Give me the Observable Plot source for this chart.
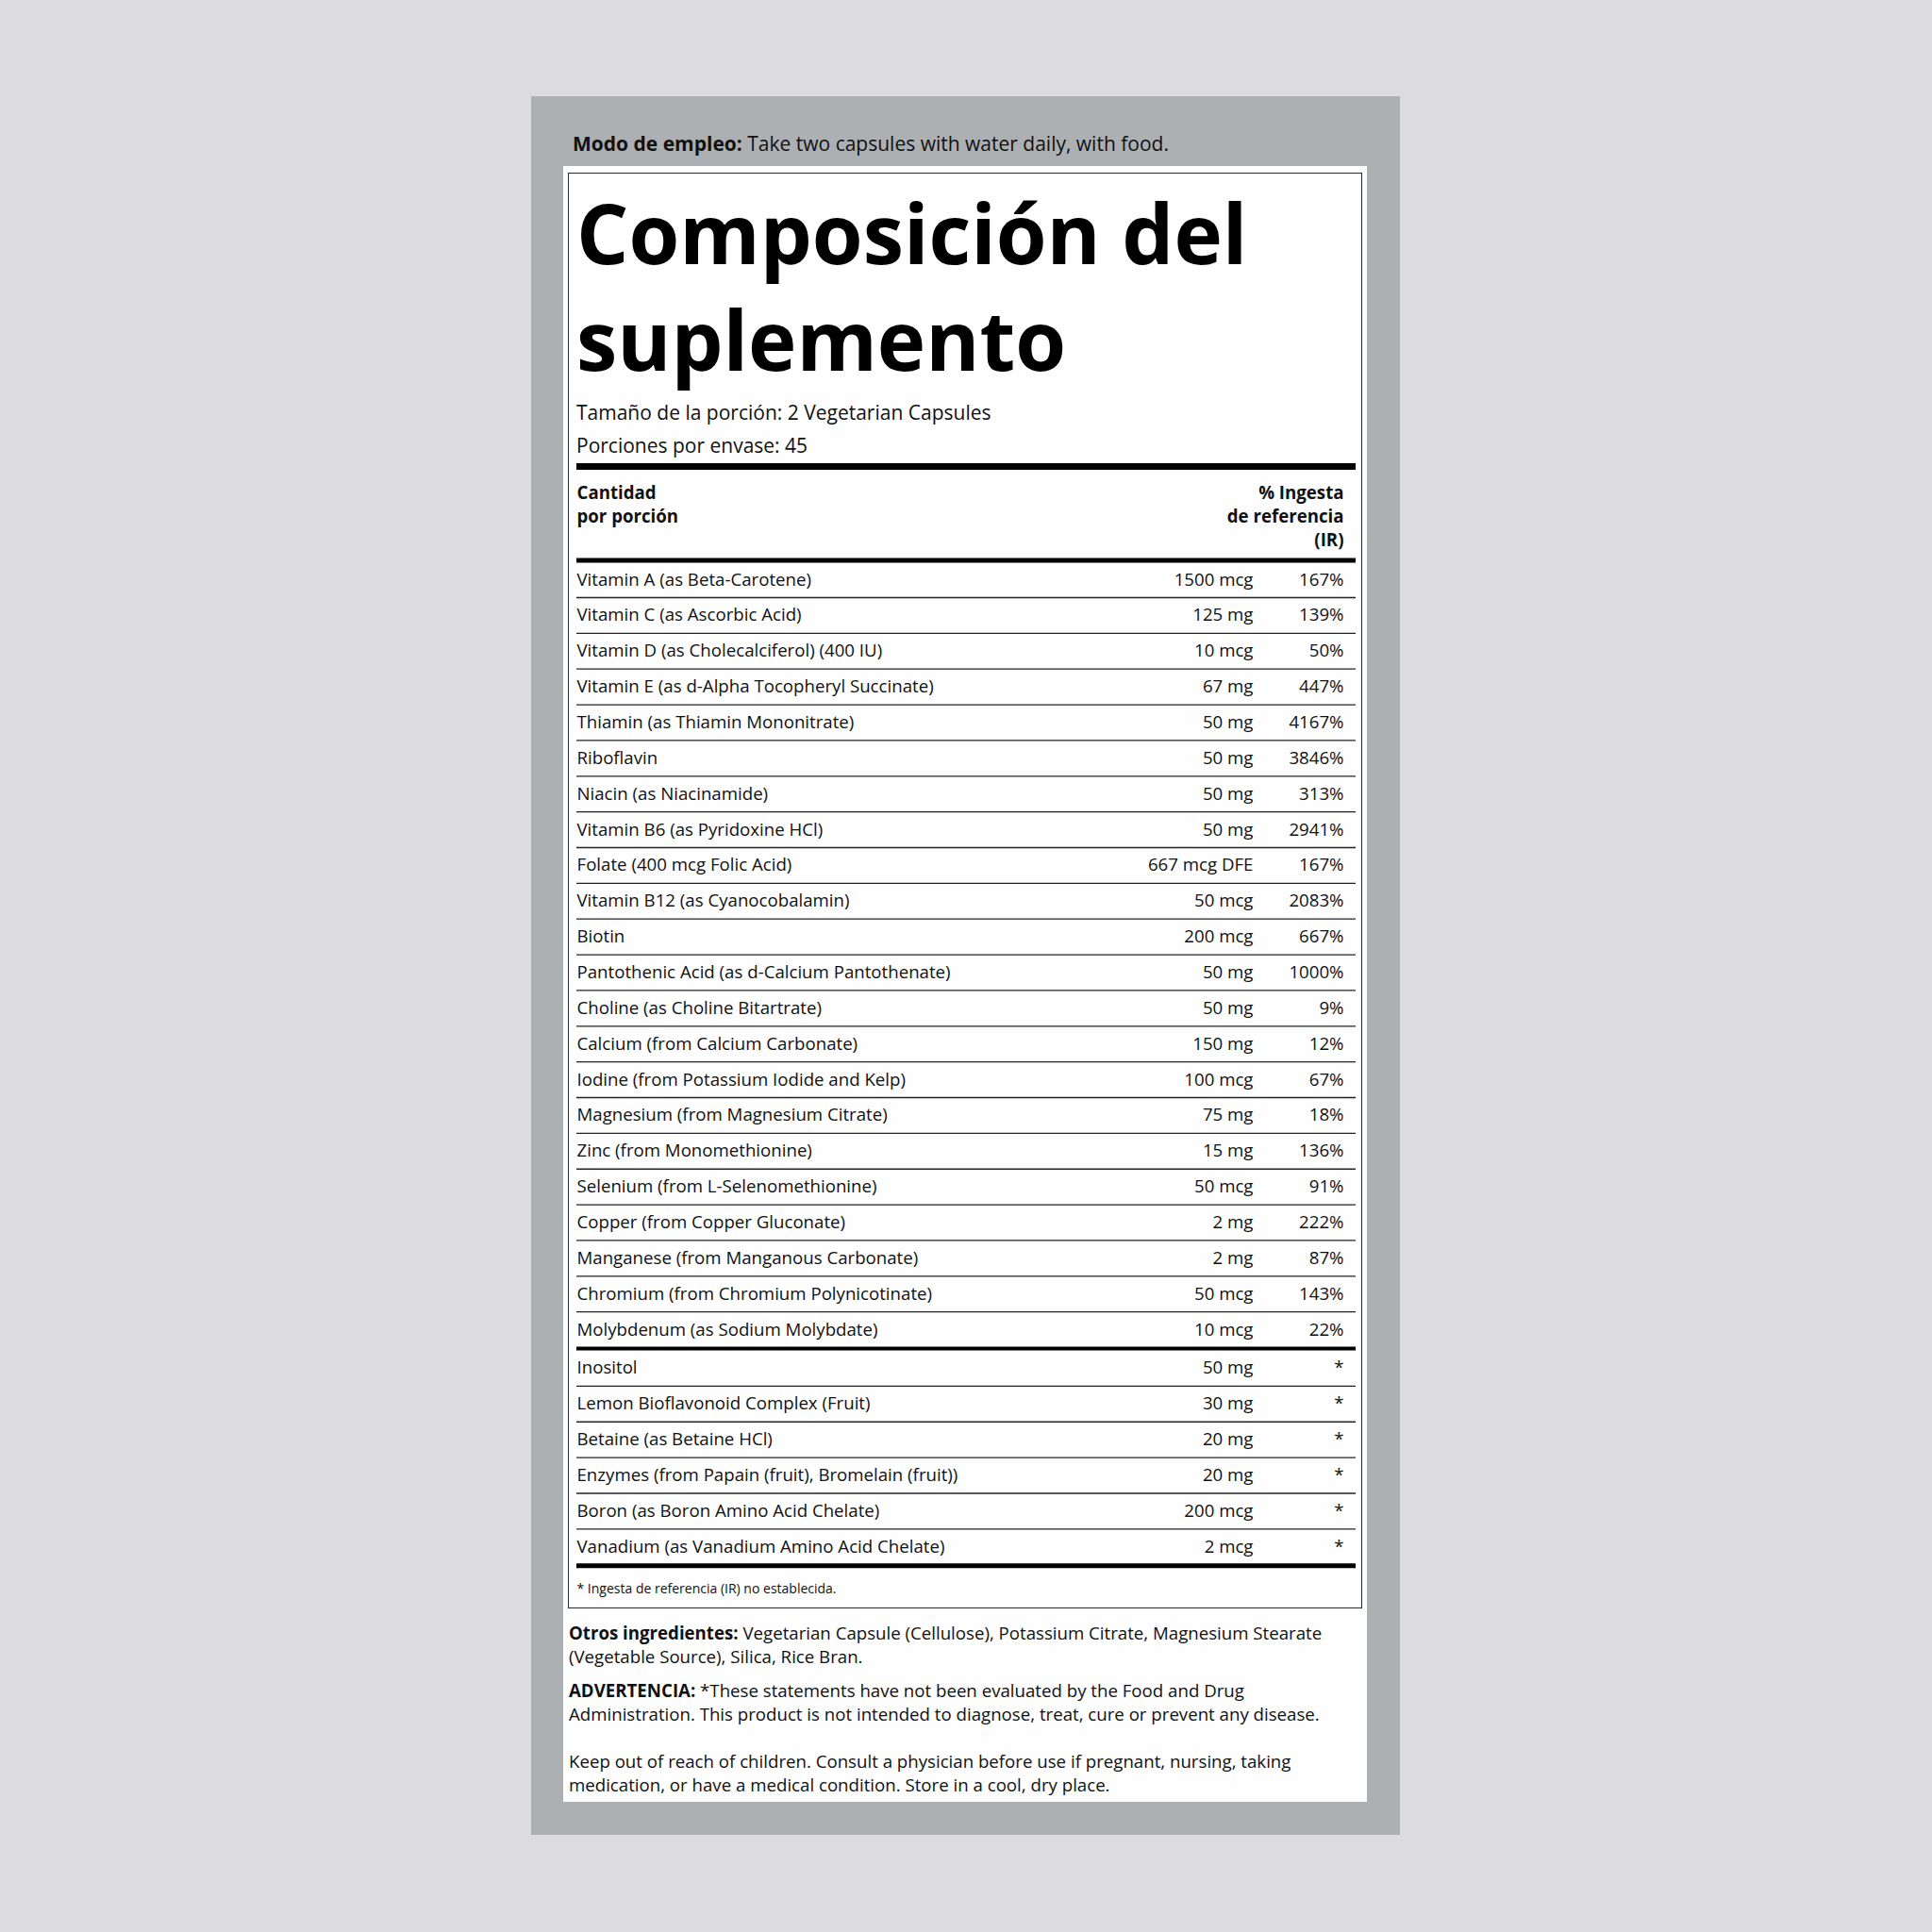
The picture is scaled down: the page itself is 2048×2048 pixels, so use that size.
<!DOCTYPE html>
<html><head><meta charset="utf-8">
<script src="https://cdn.jsdelivr.net/npm/d3@7"></script>
<script src="https://cdn.jsdelivr.net/npm/@observablehq/plot@0.6"></script>
<style>
html,body{margin:0;padding:0;}
body{width:2048px;height:2048px;background:#dcdbde;position:relative;overflow:hidden;font-family:"Open Sans",sans-serif;color:#111;}
.abs{position:absolute;white-space:nowrap;}
#panel{left:563px;top:102px;width:921px;height:1843px;background:#adb0b3;}
#white{left:597px;top:176px;width:852px;height:1734px;background:#fdfefd;}
#box{left:602px;top:183px;width:842px;height:1522px;border:1.5px solid #2b2b2b;box-sizing:border-box;}
#modo{left:607px;top:141.5px;font-size:21px;line-height:21px;}
#title{left:611px;top:190px;font-size:87px;line-height:113px;font-weight:700;color:#000;}
#serving{left:611px;top:419.5px;font-size:21px;line-height:35px;}
.para{left:603px;font-size:18.67px;line-height:25px;}
#otros{top:1717.5px;}
#adv{top:1778.5px;}
#keep{top:1853.5px;}
#table{left:611px;top:491px;width:826px;}
b{font-weight:700;}
</style></head>
<body>
<div id="panel" class="abs"></div>
<div id="white" class="abs"></div>
<div id="box" class="abs"></div>
<div id="modo" class="abs"></div>
<div id="title" class="abs"></div>
<div id="serving" class="abs"></div>
<div id="otros" class="abs para"></div>
<div id="adv" class="abs para"></div>
<div id="keep" class="abs para"></div>
<div id="table" class="abs"></div>
<script>
// ---- content ----
const directions = ["Modo de empleo:", "Take two capsules with water daily, with food."];
const titleLines = ["Composición del", "suplemento"];
const servingLines = ["Tamaño de la porción: 2 Vegetarian Capsules", "Porciones por envase: 45"];
const headerLeft = ["Cantidad", "por porción"];
const headerRight = ["% Ingesta", "de referencia", "(IR)"];
const footnote = "* Ingesta de referencia (IR) no establecida.";
const otherIngredients = ["Otros ingredientes:", "Vegetarian Capsule (Cellulose), Potassium Citrate, Magnesium Stearate", "(Vegetable Source), Silica, Rice Bran."];
const warning = ["ADVERTENCIA:", "*These statements have not been evaluated by the Food and Drug", "Administration. This product is not intended to diagnose, treat, cure or prevent any disease."];
const keepOut = ["Keep out of reach of children. Consult a physician before use if pregnant, nursing, taking", "medication, or have a medical condition. Store in a cool, dry place."];

// ---- data ----
const nutrients = [
  "Vitamin A (as Beta-Carotene)",
  "Vitamin C (as Ascorbic Acid)",
  "Vitamin D (as Cholecalciferol) (400 IU)",
  "Vitamin E (as d-Alpha Tocopheryl Succinate)",
  "Thiamin (as Thiamin Mononitrate)",
  "Riboflavin",
  "Niacin (as Niacinamide)",
  "Vitamin B6 (as Pyridoxine HCl)",
  "Folate (400 mcg Folic Acid)",
  "Vitamin B12 (as Cyanocobalamin)",
  "Biotin",
  "Pantothenic Acid (as d-Calcium Pantothenate)",
  "Choline (as Choline Bitartrate)",
  "Calcium (from Calcium Carbonate)",
  "Iodine (from Potassium Iodide and Kelp)",
  "Magnesium (from Magnesium Citrate)",
  "Zinc (from Monomethionine)",
  "Selenium (from L-Selenomethionine)",
  "Copper (from Copper Gluconate)",
  "Manganese (from Manganous Carbonate)",
  "Chromium (from Chromium Polynicotinate)",
  "Molybdenum (as Sodium Molybdate)"
];
const nutrientAmounts = ["1500 mcg","125 mg","10 mcg","67 mg","50 mg","50 mg","50 mg","50 mg","667 mcg DFE","50 mcg","200 mcg","50 mg","50 mg","150 mg","100 mcg","75 mg","15 mg","50 mcg","2 mg","2 mg","50 mcg","10 mcg"];
const nutrientPct = [167,139,50,447,4167,3846,313,2941,167,2083,667,1000,9,12,67,18,136,91,222,87,143,22];

const others = [
  "Inositol",
  "Lemon Bioflavonoid Complex (Fruit)",
  "Betaine (as Betaine HCl)",
  "Enzymes (from Papain (fruit), Bromelain (fruit))",
  "Boron (as Boron Amino Acid Chelate)",
  "Vanadium (as Vanadium Amino Acid Chelate)"
];
const otherAmounts = ["50 mg","30 mg","20 mg","20 mg","200 mcg","2 mcg"];

// ---- html text ----
document.getElementById("modo").innerHTML = `<b>${directions[0]}</b> ${directions[1]}`;
document.getElementById("title").innerHTML = titleLines.join("<br>");
document.getElementById("serving").innerHTML = servingLines.join("<br>");
document.getElementById("otros").innerHTML = `<b>${otherIngredients[0]}</b> ${otherIngredients[1]}<br>${otherIngredients[2]}`;
document.getElementById("adv").innerHTML = `<b>${warning[0]}</b> ${warning[1]}<br>${warning[2]}`;
document.getElementById("keep").innerHTML = keepOut.join("<br>");

// ---- table ----
const rows = [
  ...nutrients.map((name, i) => ({name, amount: nutrientAmounts[i], pct: nutrientPct[i], group: 0})),
  ...others.map((name, i) => ({name, amount: otherAmounts[i], pct: null, group: 1}))
].map((d, i) => ({...d, row: i}));

const P = 37.86, H = 1215, W = 826, Y0 = -2.75;
const gap = 3 / P;
const nA = nutrients.length, nAll = rows.length;
const yc = d => d.row + 0.5 + (d.group ? gap : 0);
const yb = d => d.row + 1 + (d.group ? gap : 0);
const fs = 18.67;

const chart = Plot.plot({
  width: W, height: H, margin: 0,
  y: {axis: null, domain: [Y0, Y0 + H / P], reverse: true},
  style: {fontFamily: "'Open Sans', sans-serif", color: "#111", background: "transparent", overflow: "visible"},
  marks: [
    Plot.ruleY([Y0], {y: d => d, stroke: "#000", strokeWidth: 7, dy: 3}),
    Plot.text([headerLeft.join("\n")], {text: d => d, frameAnchor: "top-left", textAnchor: "start", lineAnchor: "bottom", lineHeight: 25 / fs, dy: 62, fontSize: fs, fontWeight: "bold", fill: "#111"}),
    Plot.text([headerRight.join("\n")], {text: d => d, frameAnchor: "top-right", textAnchor: "end", lineAnchor: "bottom", lineHeight: 25 / fs, dx: -13, dy: 87, fontSize: fs, fontWeight: "bold", fill: "#111"}),
    Plot.ruleY([0], {y: d => d, stroke: "#000", strokeWidth: 5, dy: -1.5}),
    Plot.ruleY(rows.filter(d => d.row !== nA - 1 && d.row !== nAll - 1), {y: yb, stroke: "#222", strokeWidth: 1.3}),
    Plot.ruleY([nA], {y: d => d, stroke: "#000", strokeWidth: 4, dy: 1}),
    Plot.ruleY([nAll + gap], {y: d => d, stroke: "#000", strokeWidth: 5, dy: 1}),
    Plot.text(rows, {y: yc, text: "name", frameAnchor: "left", textAnchor: "start", fontSize: fs, fill: "#111"}),
    Plot.text(rows, {y: yc, text: "amount", frameAnchor: "right", textAnchor: "end", dx: -109, fontSize: fs, fill: "#111"}),
    Plot.text(rows, {y: yc, text: d => d.pct == null ? "*" : d.pct + "%", frameAnchor: "right", textAnchor: "end", dx: -13, fontSize: fs, fill: "#111"}),
    Plot.text([footnote], {text: d => d, frameAnchor: "top-left", textAnchor: "start", lineAnchor: "bottom", dy: 1197, fontSize: 14, fill: "#111"})
  ]
});
document.getElementById("table").appendChild(chart);
</script>
</body></html>
